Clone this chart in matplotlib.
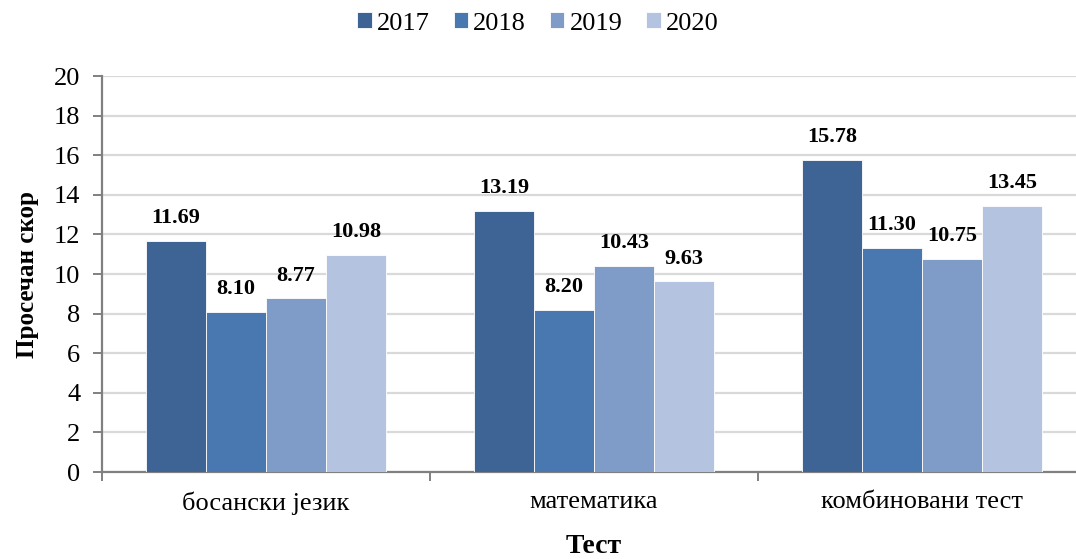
import numpy as np
import matplotlib.pyplot as plt
from matplotlib.ticker import FixedLocator

categories = ['босански језик', 'математика', 'комбиновани тест']
years = ['2017', '2018', '2019', '2020']
v2017 = [11.69, 13.19, 15.78]
v2018 = [8.10, 8.20, 11.30]
v2019 = [8.77, 10.43, 10.75]
v2020 = [10.98, 9.63, 13.45]

colors = ['#3D6494', '#4878AF', '#7F9CC8', '#B4C3DF']

plt.rcParams['font.family'] = ['Liberation Serif', 'DejaVu Serif']

fig = plt.figure(figsize=(10.76, 5.59), dpi=100)
# axes run a little past the right edge of the picture, as in the original
ax = fig.add_axes([0.0948, 0.1556, 0.9145, 0.7084])

x = np.arange(len(categories))
w = 0.183
series = [v2017, v2018, v2019, v2020]
for i, (vals, yr) in enumerate(zip(series, years)):
    pos = x + (i - 1.5) * w
    bars = ax.bar(pos, vals, w, color=colors[i], edgecolor='white',
                  linewidth=0.6, label=yr, zorder=3)
    for b, v in zip(bars, vals):
        ax.text(b.get_x() + b.get_width() / 2, v + 0.9, f'{v:.2f}',
                ha='center', va='baseline', fontsize=16, fontweight='bold')

ax.set_ylim(0, 20)
ax.set_xlim(-0.5, 2.5)
ax.set_yticks(range(0, 21, 2))
ax.yaxis.grid(True, color='#D9D9D9', linewidth=1.6, zorder=0)
ax.tick_params(axis='y', labelsize=19, length=6.5, color='#808080',
               width=1.4, pad=9)

ax.xaxis.set_major_locator(FixedLocator([-0.5, 0.5, 1.5, 2.5]))
ax.set_xticklabels([])
ax.set_xticks(x, minor=True)
ax.set_xticklabels(categories, minor=True)
ax.tick_params(axis='x', which='major', length=6.5, color='#808080', width=1.4)
ax.tick_params(axis='x', which='minor', length=0, labelsize=19, pad=14)

for s in ['top', 'right']:
    ax.spines[s].set_visible(False)
for s in ['left', 'bottom']:
    ax.spines[s].set_color('#808080')
    ax.spines[s].set_linewidth(1.6)

ax.set_ylabel('Просечан скор', fontsize=18, fontweight='bold', labelpad=11)
ax.set_xlabel('Тест', fontsize=20, fontweight='bold', labelpad=14)

fig.legend(loc='center', bbox_to_anchor=(0.5, 0.958), ncol=4, frameon=False,
           fontsize=19, handlelength=0.55, handleheight=0.55,
           handletextpad=0.2, columnspacing=0.9)

fig.savefig('out.png', dpi=100)
